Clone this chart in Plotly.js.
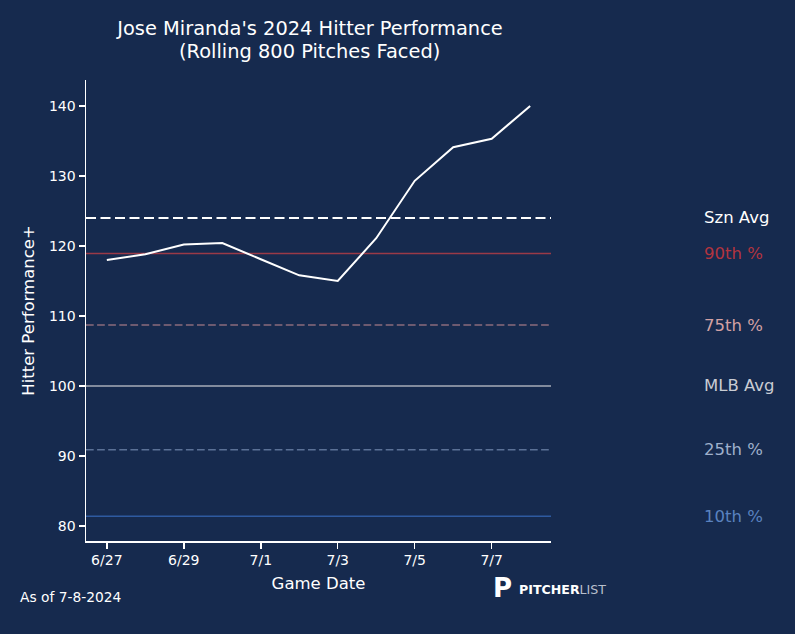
<!DOCTYPE html>
<html>
<head>
<meta charset="utf-8">
<script src="https://cdn.plot.ly/plotly-3.0.1.min.js"></script>
<style>html,body{margin:0;padding:0;background:#162a4e;}#chart{width:795px;height:634px;}</style>
</head>
<body>
<div id="chart"></div>
<script>
const gameDates = ["2024-06-27","2024-06-28","2024-06-29","2024-06-30","2024-07-01","2024-07-02","2024-07-03","2024-07-04","2024-07-05","2024-07-06","2024-07-07","2024-07-08"];
const hitterPerf = [118.0,118.8,120.2,120.4,118.1,115.8,115.0,121.1,129.3,134.1,135.3,140.0];

const refNames  = ["Szn Avg","90th %","75th %","MLB Avg","25th %","10th %"];
const refValues = [124.0,118.9,108.7,100.0,90.9,81.4];
const refLineColors = ["#ffffff","#9a3a47","#8a6b7c","#a7adb9","#5b7196","#2e5aa0"];
const refTextColors = ["#ffffff","#b2343f","#d2a1a4","#c9ccd3","#9fb0cb","#5a82bf"];
const refDash = ["10px,4.5px","solid","7.7px,3.4px","solid","7.7px,3.4px","solid"];
const refWidth = [2,1.5,1.5,1.5,1.5,1.5];

const tickVals = ["2024-06-27","2024-06-29","2024-07-01","2024-07-03","2024-07-05","2024-07-07"];
const tickText = ["6/27","6/29","7/1","7/3","7/5","7/7"];

const titleLine1 = "Jose Miranda's 2024 Hitter Performance";
const titleLine2 = "(Rolling 800 Pitches Faced)";

const xRange = ["2024-06-26 11:00","2024-07-08 13:00"];
const yRange = [77.85,143.7];

const traces = [];
refValues.forEach((v,i)=>{
  traces.push({
    x: xRange, y: [v,v], mode:"lines", type:"scatter", hoverinfo:"skip", showlegend:false,
    line:{color:refLineColors[i], width:refWidth[i], dash:refDash[i]}
  });
});
traces.push({
  x: gameDates, y: hitterPerf, mode:"lines", type:"scatter", showlegend:false,
  line:{color:"#ffffff", width:2}
});

const annotations = refValues.map((v,i)=>({
  x: 1.325, xref:"paper", xanchor:"left", y: v, yref:"y", yanchor:"middle",
  text: refNames[i], showarrow:false,
  font:{family:"DejaVu Sans", size:16.5, color:refTextColors[i]}
}));
annotations.push({
  x:0.4817, xref:"paper", xanchor:"center", y:(541-51)/461, yref:"paper", yanchor:"middle",
  text:titleLine2, showarrow:false,
  font:{family:"DejaVu Sans", size:19.4, color:"#ffffff"}
});
annotations.push({
  x:-0.146, xref:"paper", xanchor:"left", y:-0.122, yref:"paper", yanchor:"middle",
  text:"As of 7-8-2024", showarrow:false,
  font:{family:"DejaVu Sans", size:13.8, color:"#ffffff"}
});
annotations.push({
  x:0.872, xref:"paper", xanchor:"left", y:-0.102, yref:"paper", yanchor:"middle",
  text:"<b>P</b>", showarrow:false,
  font:{family:"DejaVu Sans", size:26, color:"#ffffff"}
});
annotations.push({
  x:0.926, xref:"paper", xanchor:"left", y:-0.105, yref:"paper", yanchor:"middle",
  text:"<b>PITCHER</b><span style='color:#b8bfcc'>LIST</span>", showarrow:false,
  font:{family:"DejaVu Sans", size:12.6, color:"#ffffff"}
});

const layout = {
  width:795, height:634,
  paper_bgcolor:"#162a4e", plot_bgcolor:"#162a4e",
  margin:{l:86, r:244, t:80, b:93},
  font:{family:"DejaVu Sans", color:"#ffffff"},
  title:{text:titleLine1,
    x:310/795, xanchor:"center", xref:"container", y:1-28/634, yref:"container", yanchor:"middle",
    font:{family:"DejaVu Sans", size:19.4, color:"#ffffff"}},
  xaxis:{type:"date", range:xRange, tickvals:tickVals, ticktext:tickText,
    showgrid:false, zeroline:false, showline:true, linecolor:"#ffffff", linewidth:1.5,
    ticks:"outside", ticklen:6, tickwidth:1.5, tickcolor:"#ffffff",
    tickfont:{family:"DejaVu Sans", size:14, color:"#ffffff"},
    title:{text:"Game Date", standoff:10, font:{family:"DejaVu Sans", size:16.5, color:"#ffffff"}}},
  yaxis:{range:yRange, tickvals:[80,90,100,110,120,130,140],
    showgrid:false, zeroline:false, showline:true, linecolor:"#ffffff", linewidth:1.5,
    ticks:"outside", ticklen:6, tickwidth:1.5, tickcolor:"#ffffff",
    tickfont:{family:"DejaVu Sans", size:14, color:"#ffffff"},
    title:{text:"Hitter Performance+", standoff:10, font:{family:"DejaVu Sans", size:16.5, color:"#ffffff"}}},
  annotations: annotations
};

Plotly.newPlot("chart", traces, layout, {displayModeBar:false, staticPlot:true});
</script>
</body>
</html>
